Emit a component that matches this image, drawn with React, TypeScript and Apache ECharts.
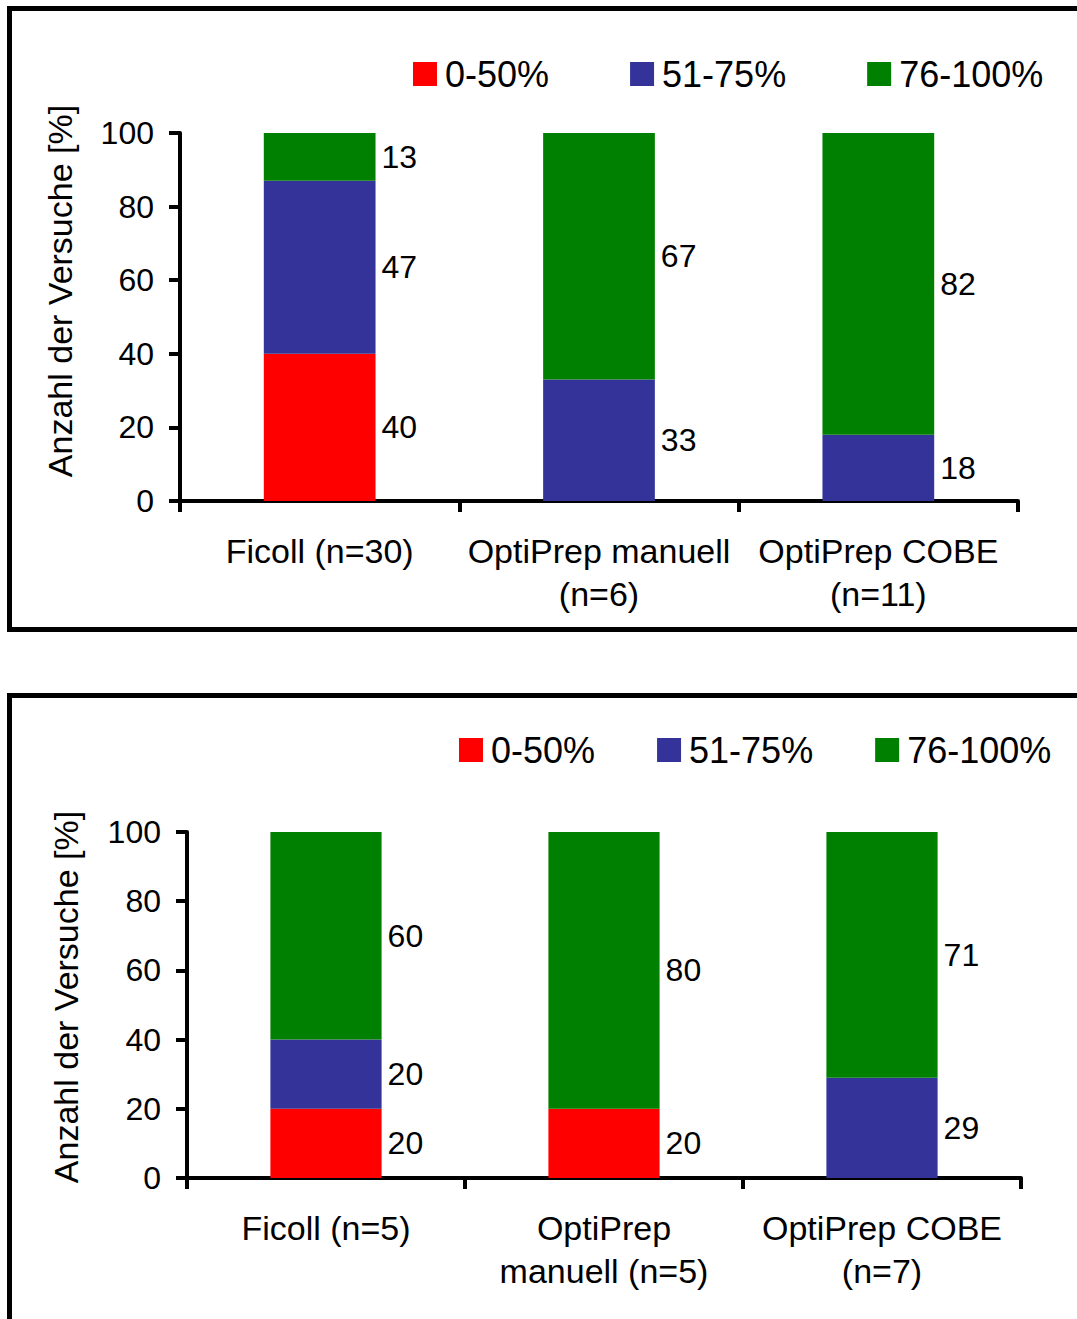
import React, { useEffect, useRef } from "react";
import * as echarts from "echarts";

const seriesNames = ["0-50%", "51-75%", "76-100%"];
const seriesColors = ["#FF0000", "#333399", "#008000"];

const categoriesTop = ["Ficoll (n=30)", "OptiPrep manuell\n(n=6)", "OptiPrep COBE\n(n=11)"];
const redTop = [40, 0, 0];
const blueTop = [47, 33, 18];
const greenTop = [13, 67, 82];

const categoriesBottom = ["Ficoll (n=5)", "OptiPrep\nmanuell (n=5)", "OptiPrep COBE\n(n=7)"];
const redBottom = [20, 20, 0];
const blueBottom = [20, 0, 29];
const greenBottom = [60, 80, 71];

const yMin = 0;
const yMax = 100;
const yInterval = 20;
const yName = "Anzahl der Versuche [%]";

const FONT = "'Liberation Sans', Arial, sans-serif";

export default function App() {
  const ref = useRef<HTMLDivElement>(null);

  useEffect(() => {
    if (!ref.current) return;
    const chart = echarts.init(ref.current, undefined, { renderer: "svg" });

    const axisLine = { show: true, lineStyle: { color: "#000", width: 4 } };
    const axisTick = { show: true, length: 11, lineStyle: { color: "#000", width: 4 } };

    const makeY = (gridIndex: number, padLeft: number, gap: number) => ({
      type: "value",
      gridIndex,
      min: yMin,
      max: yMax,
      interval: yInterval,
      splitLine: { show: false },
      axisLine,
      axisTick,
      axisLabel: { fontSize: 32, color: "#000", fontFamily: FONT, margin: 26 },
      name: yName,
      nameLocation: "middle",
      nameRotate: 90,
      nameGap: gap,
      nameTextStyle: { fontSize: 34, color: "#000", fontFamily: FONT, padding: [0, 0, 0, padLeft] },
    });

    const makeX = (gridIndex: number, data: string[]) => ({
      type: "category",
      gridIndex,
      data,
      axisLine,
      axisTick: { ...axisTick, alignWithLabel: false },
      axisLabel: {
        fontSize: 34,
        color: "#000",
        fontFamily: FONT,
        margin: 28,
        lineHeight: 43,
        interval: 0,
      },
    });

    const makeSeries = (idx: number, stack: string, values: number[][]) =>
      values.map((vals, i) => ({
        type: "bar",
        name: seriesNames[i],
        stack,
        xAxisIndex: idx,
        yAxisIndex: idx,
        barWidth: "40%",
        data: vals,
        itemStyle: { color: seriesColors[i] },
        label: {
          show: true,
          position: "right",
          distance: 6,
          fontSize: 32,
          color: "#000",
          fontFamily: FONT,
          formatter: (p: any) => (p.value ? String(p.value) : ""),
        },
      }));

    const legendBase = {
      orient: "horizontal",
      data: seriesNames,
      icon: "rect",
      itemWidth: 24,
      itemHeight: 24,
      padding: 0,
      selectedMode: false,
      textStyle: {
        fontSize: 36,
        color: "#000",
        fontFamily: FONT,
        lineHeight: 36,
        padding: [0, 0, 0, 3],
      },
    };

    chart.setOption({
      animation: false,
      backgroundColor: "#fff",
      graphic: [
        {
          type: "rect",
          shape: { x: 9.5, y: 8.5, width: 1200, height: 621 },
          style: { fill: "none", stroke: "#000", lineWidth: 5 },
          silent: true,
        },
        {
          type: "rect",
          shape: { x: 9.5, y: 695.5, width: 1200, height: 800 },
          style: { fill: "none", stroke: "#000", lineWidth: 5 },
          silent: true,
        },
      ],
      legend: [
        { ...legendBase, left: 413, top: 56, itemGap: 81 },
        { ...legendBase, left: 459, top: 732, itemGap: 62 },
      ],
      grid: [
        { left: 180, top: 133, width: 838, height: 368 },
        { left: 187, top: 832, width: 834, height: 346 },
      ],
      xAxis: [makeX(0, categoriesTop), makeX(1, categoriesBottom)],
      yAxis: [makeY(0, 52, 103), makeY(1, 16, 104)],
      series: [
        ...makeSeries(0, "top", [redTop, blueTop, greenTop]),
        ...makeSeries(1, "bottom", [redBottom, blueBottom, greenBottom]),
      ],
    });

    return () => chart.dispose();
  }, []);

  return (
    <div
      ref={ref}
      style={{ position: "absolute", left: 0, top: 0, width: 1077, height: 1319 }}
    />
  );
}
